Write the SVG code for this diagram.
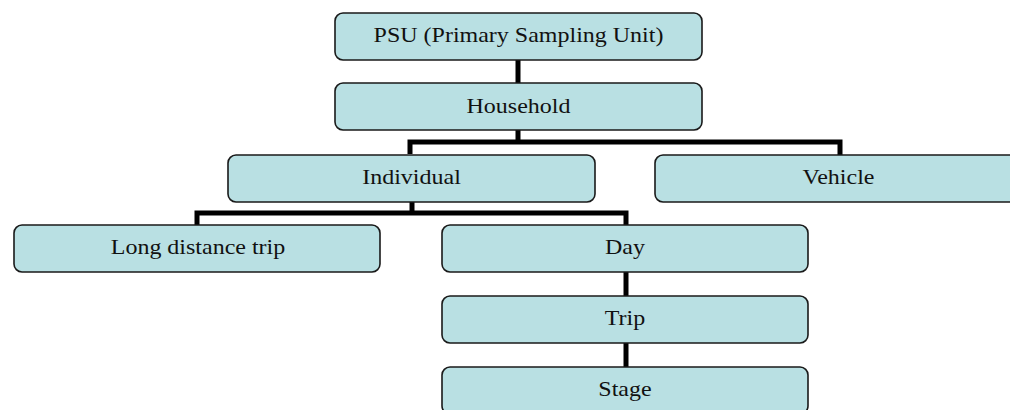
<svg xmlns="http://www.w3.org/2000/svg" width="1010" height="410" viewBox="0 0 1010 410">
<style>
.box{fill:#b9e0e3;stroke:#1a1a1a;stroke-width:1.6}
.lbl{font-family:"Liberation Serif","Times New Roman",serif;font-size:20px;fill:#111;text-anchor:middle}
.con{fill:none;stroke:#000;stroke-width:5;stroke-linejoin:miter}
</style>
<rect width="1010" height="410" fill="#fff"/>
<g id="connectors">
<path class="con" d="M518,60 V83"/>
<path class="con" d="M518,130 V142 M410,154 V142 H840 V155"/>
<path class="con" d="M412,202 V213 M197,225 V213 H626 V225"/>
<path class="con" d="M626,272 V296"/>
<path class="con" d="M626,343 V367"/>
</g>
<g id="psu"><rect class="box" x="335" y="13" width="367" height="47" rx="8"/><text class="lbl" transform="translate(518.5,41.5) scale(1.2,1)">PSU (Primary Sampling Unit)</text></g>
<g id="household"><rect class="box" x="335" y="83" width="367" height="47" rx="8"/><text class="lbl" transform="translate(518.5,112.5) scale(1.2,1)">Household</text></g>
<g id="individual"><rect class="box" x="228" y="155" width="367" height="47" rx="8"/><text class="lbl" transform="translate(411.5,184) scale(1.2,1)">Individual</text></g>
<g id="vehicle"><rect class="box" x="655" y="155" width="367" height="47" rx="8"/><text class="lbl" transform="translate(838.5,184) scale(1.2,1)">Vehicle</text></g>
<g id="longdistance"><rect class="box" x="14" y="225" width="366" height="47" rx="8"/><text class="lbl" transform="translate(198,254) scale(1.2,1)">Long distance trip</text></g>
<g id="day"><rect class="box" x="442" y="225" width="366" height="47" rx="8"/><text class="lbl" transform="translate(625,254) scale(1.2,1)">Day</text></g>
<g id="trip"><rect class="box" x="442" y="296" width="366" height="47" rx="8"/><text class="lbl" transform="translate(625,325) scale(1.2,1)">Trip</text></g>
<g id="stage"><rect class="box" x="442" y="367" width="366" height="47" rx="8"/><text class="lbl" transform="translate(625,396) scale(1.2,1)">Stage</text></g>
</svg>
